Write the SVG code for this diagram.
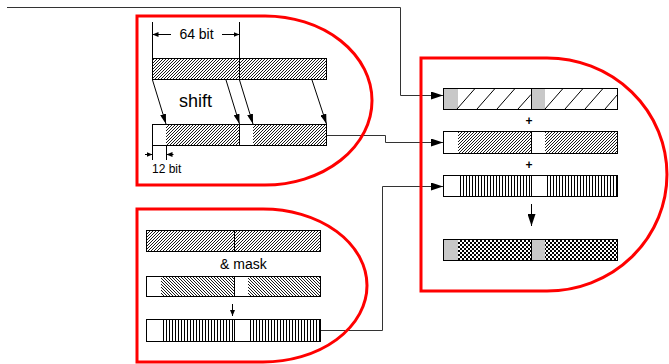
<svg xmlns="http://www.w3.org/2000/svg" width="669" height="364" viewBox="0 0 669 364">
<style>
.panel{fill:none;stroke:#ff0000;stroke-width:3}
.ol{fill:none;stroke:#000;stroke-width:1}
.ln{fill:none;stroke:#000;stroke-width:1}
.con{fill:none;stroke:#333;stroke-width:1}
.txt{font-family:"Liberation Sans",Arial,sans-serif;fill:#000}
.plus{font-family:"Liberation Sans",Arial,sans-serif;fill:#000;font-weight:bold;font-size:12px}
.gray{fill:#c8c8c8}
.white{fill:#fff}
</style>
<defs>
<pattern id="fwd" patternUnits="userSpaceOnUse" width="3" height="3">
<path d="M0,3 L3,0 M-1,1 L1,-1 M2,4 L4,2" stroke="#000" stroke-width="0.9"/>
</pattern>
<pattern id="bwd" patternUnits="userSpaceOnUse" width="3" height="3">
<path d="M0,0 L3,3 M-1,2 L1,4 M2,-1 L4,1" stroke="#000" stroke-width="0.9"/>
</pattern>
<pattern id="vert" patternUnits="userSpaceOnUse" width="3" height="3">
<rect width="3" height="3" fill="#fff"/>
<path d="M1.5,0 V3" stroke="#000" stroke-width="1"/>
</pattern>
<pattern id="chk" patternUnits="userSpaceOnUse" width="4" height="4">
<rect width="4" height="4" fill="#fff"/>
<rect x="0" y="0" width="2" height="2" fill="#000"/>
<rect x="2" y="2" width="2" height="2" fill="#000"/>
</pattern>
<marker id="aL" markerUnits="userSpaceOnUse" markerWidth="12" markerHeight="8" refX="12" refY="4" orient="auto">
<path d="M0,0 L12,4 L0,8 z" fill="#000"/>
</marker>
<marker id="aM" markerUnits="userSpaceOnUse" markerWidth="10" markerHeight="6" refX="10" refY="3" orient="auto">
<path d="M0,0 L10,3 L0,6 z" fill="#000"/>
</marker>
<marker id="aS" markerUnits="userSpaceOnUse" markerWidth="6" markerHeight="5" refX="6" refY="2.5" orient="auto">
<path d="M0,0 L6,2.5 L0,5 z" fill="#000"/>
</marker>
</defs>
<rect width="669" height="364" fill="#fff"/>

<g id="connectors">
<path class="con" d="M7,7.5 H400.5 V95.5 H443" marker-end="url(#aL)"/>
<path class="con" d="M327,135.5 H385.5 V142.5 H443" marker-end="url(#aL)"/>
<path class="con" d="M321,330.5 H382.5 V186.5 H443" marker-end="url(#aL)"/>
</g>

<g id="shift-panel">
<path class="panel" d="M137,16 H265 A107,84.5 0 0 1 265,185 H137 Z"/>
<g id="bar-source">
<rect x="152.5" y="58.5" width="174" height="21" fill="url(#fwd)"/>
<rect class="ol" x="152.5" y="58.5" width="174" height="21"/>
<path class="ln" d="M239.5,58.5 V79.5"/>
</g>
<g id="dim-64">
<path class="ln" d="M152.5,22 V58.5 M239.5,22 V58.5"/>
<path class="ln" d="M171,34.5 H152.5" marker-end="url(#aS)"/>
<path class="ln" d="M222,34.5 H239.5" marker-end="url(#aS)"/>
<text class="txt" x="196.5" y="38.5" font-size="14" text-anchor="middle">64 bit</text>
</g>
<g id="shift-arrows">
<path class="ln" d="M152.5,80 L166,124" marker-end="url(#aM)"/>
<path class="ln" d="M226,80 L239.5,124" marker-end="url(#aM)"/>
<path class="ln" d="M239.5,80 L253,124" marker-end="url(#aM)"/>
<path class="ln" d="M312,80 L326.5,124" marker-end="url(#aM)"/>
<text class="txt" x="179" y="107" font-size="18">shift</text>
</g>
<g id="bar-shifted">
<rect class="white" x="152.5" y="124.5" width="174" height="21"/>
<rect x="166" y="124.5" width="73.5" height="21" fill="url(#fwd)"/>
<rect x="253" y="124.5" width="73.5" height="21" fill="url(#fwd)"/>
<rect class="ol" x="152.5" y="124.5" width="174" height="21"/>
<path class="ln" d="M239.5,124.5 V145.5"/>
</g>
<g id="dim-12">
<path class="ln" d="M152.5,145.5 V160 M166.5,145.5 V160"/>
<path class="ln" d="M145,154.5 H152.5" marker-end="url(#aS)"/>
<path class="ln" d="M173.5,154.5 H166.5" marker-end="url(#aS)"/>
<text class="txt" x="152" y="173" font-size="12">12 bit</text>
</g>
</g>

<g id="mask-panel">
<path class="panel" d="M137,209 H263 A104,76.5 0 0 1 263,362 H137 Z"/>
<g id="bar-input">
<rect x="146.5" y="230.5" width="174" height="21" fill="url(#fwd)"/>
<rect class="ol" x="146.5" y="230.5" width="174" height="21"/>
<path class="ln" d="M234.5,230.5 V251.5"/>
</g>
<text class="txt" x="220" y="268.5" font-size="14">&amp; mask</text>
<g id="bar-mask">
<rect class="white" x="146.5" y="276.5" width="174" height="20"/>
<rect x="161" y="276.5" width="73.5" height="20" fill="url(#bwd)"/>
<rect x="248" y="276.5" width="72.5" height="20" fill="url(#bwd)"/>
<rect class="ol" x="146.5" y="276.5" width="174" height="20"/>
<path class="ln" d="M234.5,276.5 V296.5"/>
</g>
<path class="ln" d="M232.5,304 V316" marker-end="url(#aS)"/>
<g id="bar-masked">
<rect class="white" x="146.5" y="319.5" width="174" height="22"/>
<rect x="163" y="319.5" width="71.5" height="22" fill="url(#vert)"/>
<rect x="250" y="319.5" width="70.5" height="22" fill="url(#vert)"/>
<rect class="ol" x="146.5" y="319.5" width="174" height="22"/>
<path class="ln" d="M234.5,319.5 V341.5"/>
</g>
</g>

<g id="sum-panel">
<path class="panel" d="M421,58 H547 A120,116.5 0 0 1 547,291 H421 Z"/>
<g id="bar-r1">
<rect class="white" x="443.5" y="88.5" width="174" height="21"/>
<rect class="gray" x="443.5" y="88.5" width="14.5" height="21"/>
<rect class="gray" x="531.5" y="88.5" width="13.5" height="21"/>
<path class="ln" d="M457,109 L475,88.5 M477,109 L495,88.5 M497,109 L515,88.5 M518,109 L531,94.5 M545,109 L563,88.5 M565,109 L583,88.5 M585,109 L603,88.5 M605,109 L617.5,94.5"/>
<rect class="ol" x="443.5" y="88.5" width="174" height="21"/>
<path class="ln" d="M531.5,88.5 V109.5"/>
</g>
<text class="plus" x="529" y="125" text-anchor="middle">+</text>
<g id="bar-r2">
<rect class="white" x="443.5" y="131.5" width="174" height="22"/>
<rect x="458" y="131.5" width="73.5" height="22" fill="url(#fwd)"/>
<rect x="545" y="131.5" width="72.5" height="22" fill="url(#fwd)"/>
<rect class="ol" x="443.5" y="131.5" width="174" height="22"/>
<path class="ln" d="M531.5,131.5 V153.5"/>
</g>
<text class="plus" x="529" y="169" text-anchor="middle">+</text>
<g id="bar-r3">
<rect class="white" x="443.5" y="175.5" width="174" height="21"/>
<rect x="459" y="175.5" width="72.5" height="21" fill="url(#vert)"/>
<rect x="547" y="175.5" width="70.5" height="21" fill="url(#vert)"/>
<rect class="ol" x="443.5" y="175.5" width="174" height="21"/>
<path class="ln" d="M531.5,175.5 V196.5"/>
</g>
<path class="ln" d="M531.5,204 V226" marker-end="url(#aL)"/>
<g id="bar-r4">
<rect x="443.5" y="239.5" width="174" height="21" fill="url(#chk)"/>
<rect class="gray" x="443.5" y="239.5" width="14.5" height="21"/>
<rect class="gray" x="531.5" y="239.5" width="13.5" height="21"/>
<rect class="ol" x="443.5" y="239.5" width="174" height="21"/>
<path class="ln" d="M531.5,239.5 V260.5"/>
</g>
</g>
</svg>
